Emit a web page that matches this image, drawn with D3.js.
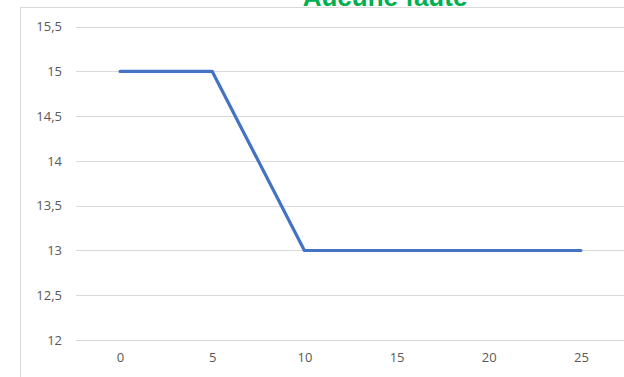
<!DOCTYPE html>
<html>
<head>
<meta charset="utf-8">
<script src="https://cdn.jsdelivr.net/npm/d3@7"></script>
<style>
  html, body { margin: 0; padding: 0; background: #fff; overflow: hidden; }
  svg { display: block; }
</style>
</head>
<body>
<svg id="chart" width="624" height="377"></svg>
<script>
// Data
const categories = ["0", "5", "10", "15", "20", "25"];
const values = [15, 15, 13, 13, 13, 13];
const yTicks = [12, 12.5, 13, 13.5, 14, 14.5, 15, 15.5];
const title = "Aucune faute";

const svg = d3.select("#chart");
const W = 624, H = 377;

// Chart frame (extends past the right and bottom edges)
svg.append("rect")
  .attr("x", 20.5).attr("y", 7.5)
  .attr("width", 640).attr("height", 400)
  .attr("fill", "#fff")
  .attr("stroke", "#d9d9d9").attr("stroke-width", 1);

const x = d3.scalePoint()
  .domain(categories)
  .range([74, 627])
  .padding(0.5);

const y = d3.scaleLinear()
  .domain([12, 15.5])
  .range([340, 26.7]);

const fmt = v => String(v).replace(".", ",");

// Horizontal gridlines
svg.append("g")
  .selectAll("line")
  .data(yTicks)
  .join("line")
  .attr("x1", 76).attr("x2", W)
  .attr("y1", d => Math.round(y(d)) + 0.5)
  .attr("y2", d => Math.round(y(d)) + 0.5)
  .attr("stroke", "#d9d9d9").attr("stroke-width", 1);

// Y axis labels
const yAxis = d3.axisLeft(y).tickValues(yTicks).tickFormat(fmt).tickSize(0).tickPadding(0);
svg.append("g")
  .attr("transform", "translate(62,0)")
  .call(yAxis)
  .call(g => g.select(".domain").remove())
  .selectAll("text")
  .attr("fill", "#595959")
  .style("font-family", "'Open Sans', sans-serif")
  .style("font-size", "13px");

// X axis labels
const xAxis = d3.axisBottom(x).tickSize(0).tickPadding(0);
svg.append("g")
  .attr("transform", "translate(0,353)")
  .call(xAxis)
  .call(g => g.select(".domain").remove())
  .selectAll("text")
  .attr("fill", "#595959")
  .style("font-family", "'Open Sans', sans-serif")
  .style("font-size", "13px");

// Series line
const line = d3.line()
  .x((d, i) => x(categories[i]))
  .y(d => y(d));

svg.append("path")
  .datum(values)
  .attr("d", line)
  .attr("fill", "none")
  .attr("stroke", "#4472C4")
  .attr("stroke-width", 3.2)
  .attr("stroke-linejoin", "round")
  .attr("stroke-linecap", "round");

// Title
svg.append("text")
  .attr("x", 385).attr("y", 6)
  .attr("text-anchor", "middle")
  .attr("fill", "#00B050")
  .style("font-family", "'Liberation Sans', Arial, sans-serif")
  .style("font-weight", "bold")
  .style("font-size", "26px")
  .text(title);
</script>
</body>
</html>
